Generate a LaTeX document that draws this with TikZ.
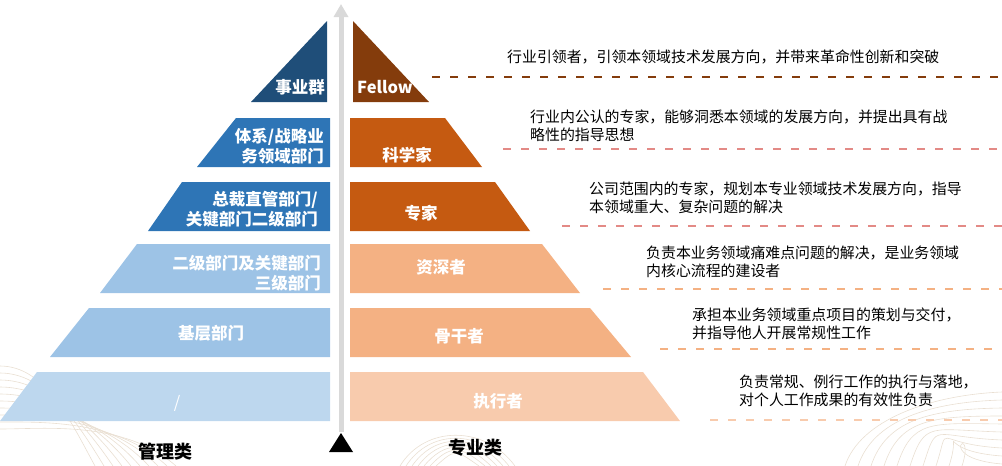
\documentclass[tikz,border=0pt]{standalone}
\usepackage{fontspec}
\setmainfont{Noto Sans CJK SC}
\usetikzlibrary{arrows.meta}
\definecolor{mgA}{HTML}{1F4E79}
\definecolor{mgB}{HTML}{2E75B6}
\definecolor{mgC}{HTML}{9DC3E6}
\definecolor{mgD}{HTML}{BDD7EE}
\definecolor{prA}{HTML}{843C0C}
\definecolor{prB}{HTML}{C55A11}
\definecolor{prC}{HTML}{F4B183}
\definecolor{prD}{HTML}{F8CBAD}
\definecolor{lnB}{HTML}{E38A86}
\definecolor{wave}{HTML}{E9DFD2}
\tikzset{
  tierlabel/.style={text=white,font=\fontsize{16.5}{20}\selectfont\bfseries,inner sep=0pt},
  desc/.style={anchor=west,align=left,inner sep=0pt,font=\fontsize{14.9}{18}\selectfont},
  dline/.style={line width=2pt,dash pattern=on 8pt off 10pt},
  waveline/.style={wave,line width=0.6pt}
}
\begin{document}
\begin{tikzpicture}[x=1pt,y=-1pt]
    \useasboundingbox (0,0) rectangle (1002,466);
    % faint contour lines in the background
    \foreach \k in {0,...,9}{
      \draw[waveline] (0,366+7*\k) .. controls (45,366+7*\k) and (70+6*\k,420) .. (95+9*\k,466);
      \draw[waveline] (845+13*\k,466) .. controls (860+13*\k,420) and (930,395+7*\k) .. (1002,392+8*\k);
    }
    \foreach \k in {0,...,6}
      \draw[waveline] (400+6*\k,466) .. controls (425+5*\k,425+4*\k) and (485-5*\k,425+4*\k) .. (515-6*\k,466);
    % axis
    \draw[line width=5pt,color=black!15,-{Triangle[width=14pt,length=13pt]}] (341,432) -- (341,4);
    \fill (329,452) -- (353,452) -- (341,433) -- cycle;
    % management side
    \fill[mgA] (327,21) -- (251,102) -- (327,102) -- cycle;
    \fill[mgB] (236,118) -- (330,118) -- (330,167) -- (197,167) -- cycle;
    \fill[mgB] (182,182) -- (330,182) -- (330,231) -- (148,231) -- cycle;
    \fill[mgC] (137,244) -- (330,244) -- (330,293) -- (100,293) -- cycle;
    \fill[mgC] (89,308) -- (330,308) -- (330,357) -- (50,357) -- cycle;
    \fill[mgD] (37,372) -- (330,372) -- (330,421) -- (0,421) -- cycle;
    \node[tierlabel] (m1) at (300,87) {事业群};
    \node[tierlabel,anchor=east,align=right] (m2) at (324,146) {体系/战略业\\务领域部门};
    \node[tierlabel,anchor=east,align=right] (m3) at (318,209) {总裁直管部门/\\关键部门二级部门};
    \node[tierlabel,anchor=east,align=right] (m4) at (321,273) {二级部门及关键部门\\三级部门};
    \node[tierlabel] (m5) at (211,333) {基层部门};
    \node[tierlabel,font=\fontsize{16.5}{20}\selectfont] (m6) at (177,403) {/};
    % professional side
    \fill[prA] (353,21) -- (429,102) -- (353,102) -- cycle;
    \fill[prB] (350,118) -- (445,118) -- (482,167) -- (350,167) -- cycle;
    \fill[prB] (350,182) -- (495,182) -- (530,231) -- (350,231) -- cycle;
    \fill[prC] (350,244) -- (542,244) -- (580,293) -- (350,293) -- cycle;
    \fill[prC] (350,308) -- (590,308) -- (631,357) -- (350,357) -- cycle;
    \fill[prD] (350,372) -- (643,372) -- (680,421) -- (350,421) -- cycle;
    \node[tierlabel] (p1) at (385,87) {Fellow};
    \node[tierlabel] (p2) at (407,155) {科学家};
    \node[tierlabel] (p3) at (421,213) {专家};
    \node[tierlabel] (p4) at (441,267) {资深者};
    \node[tierlabel] (p5) at (459,336) {骨干者};
    \node[tierlabel] (p6) at (498,401) {执行者};
    % descriptions
    \node[desc] (d1) at (507,57) {行业引领者，引领本领域技术发展方向，并带来革命性创新和突破};
    \node[desc] (d2) at (530,126) {行业内公认的专家，能够洞悉本领域的发展方向，并提出具有战\\略性的指导思想};
    \node[desc] (d3) at (589,198) {公司范围内的专家，规划本专业领域技术发展方向，指导\\本领域重大、复杂问题的解决};
    \node[desc] (d4) at (646,262) {负责本业务领域痛难点问题的解决，是业务领域\\内核心流程的建设者};
    \node[desc] (d5) at (692,324) {承担本业务领域重点项目的策划与交付，\\并指导他人开展常规性工作};
    \node[desc] (d6) at (739,391) {负责常规、例行工作的执行与落地，\\对个人工作成果的有效性负责};
    % dashed guide lines
    \coordinate (s1) at (432,77);  \coordinate (e1) at (1002,77);
    \coordinate (s2) at (503,149); \coordinate (e2) at (1002,149);
    \coordinate (s3) at (562,226); \coordinate (e3) at (1002,226);
    \coordinate (s4) at (603,289); \coordinate (e4) at (1002,289);
    \coordinate (s5) at (660,349); \coordinate (e5) at (1002,349);
    \coordinate (s6) at (710,420); \coordinate (e6) at (1002,420);
    \draw[dline,prA] (s1) -- (e1);
    \draw[dline,lnB] (s2) -- (e2);
    \draw[dline,lnB] (s3) -- (e3);
    \draw[dline,prC] (s4) -- (e4);
    \draw[dline,prC] (s5) -- (e5);
    \draw[dline,prD] (s6) -- (e6);
    % category labels
    \node[font=\fontsize{18}{20}\selectfont\bfseries] (cm) at (165,452) {管理类};
    \node[font=\fontsize{18}{20}\selectfont\bfseries] (cp) at (475,448) {专业类};
\end{tikzpicture}
\end{document}
